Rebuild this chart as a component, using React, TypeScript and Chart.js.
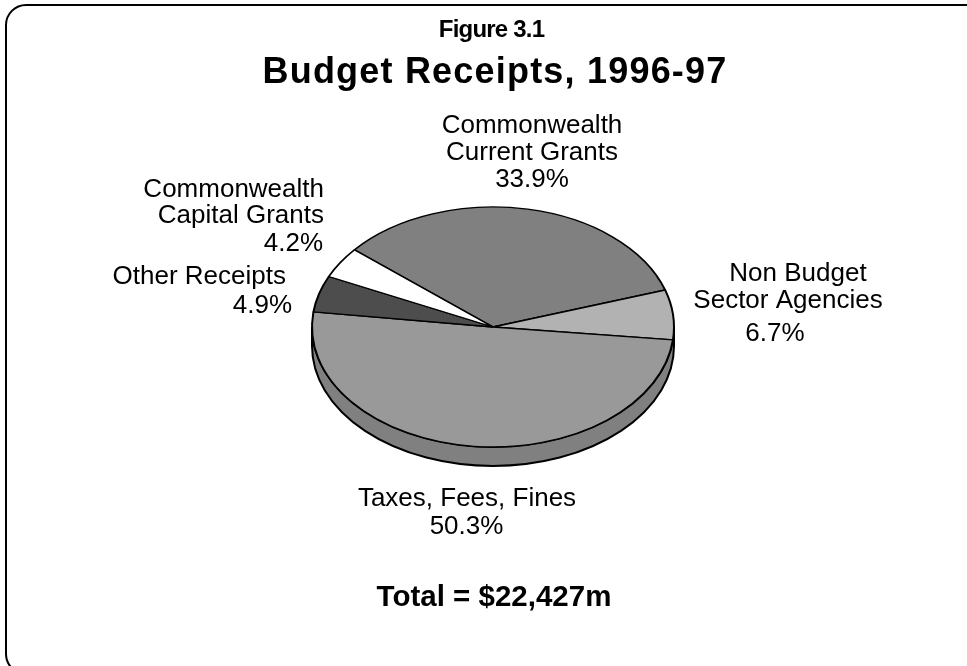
import React, { useEffect, useRef } from "react";
import { Chart, registerables } from "chart.js";

Chart.register(...registerables);

const categories = [
  "Commonwealth Current Grants",
  "Non Budget Sector Agencies",
  "Taxes, Fees, Fines",
  "Other Receipts",
  "Commonwealth Capital Grants",
];
const values = [33.9, 6.7, 50.3, 4.9, 4.2];
const sliceColors = ["#808080", "#b2b2b2", "#999999", "#4d4d4d", "#ffffff"];
const figureLabel = "Figure 3.1";
const chartTitle = "Budget Receipts, 1996-97";
const totalLabel = "Total = $22,427m";

const W = 967;
const H = 666;
const CX = 493;
const CY = 327;
const RX = 182;
const RY = 120;
const DEPTH = 19;
const FONT = '"Liberation Sans", Arial, sans-serif';

const pct = (i: number) => values[i].toFixed(1) + "%";

// [text, x, baseline y, align]
const labelLines: [string, number, number, CanvasTextAlign][] = [
  ["Commonwealth", 532, 133, "center"],
  ["Current Grants", 532, 160, "center"],
  [pct(0), 532, 187, "center"],
  ["Non Budget", 798, 281, "center"],
  ["Sector Agencies", 788, 308, "center"],
  [pct(1), 775, 341, "center"],
  ["Taxes, Fees, Fines", 467, 506, "center"],
  [pct(2), 466.5, 534, "center"],
  ["Other Receipts", 286, 284, "right"],
  [pct(3), 292, 313, "right"],
  ["Commonwealth", 324, 197, "right"],
  ["Capital Grants", 324, 223, "right"],
  [pct(4), 323, 251, "right"],
];

const piePlugin = {
  id: "flatPie",
  beforeDraw(chart: any) {
    const ctx = chart.ctx;
    ctx.save();
    ctx.fillStyle = "#ffffff";
    ctx.fillRect(0, 0, W, H);
    ctx.strokeStyle = "#000000";
    ctx.lineWidth = 2;
    ctx.beginPath();
    ctx.roundRect(6, 5, 980, 669, 20);
    ctx.stroke();
    ctx.restore();
  },
  beforeDatasetsDraw(chart: any) {
    const ctx = chart.ctx;
    const arc = chart.getDatasetMeta(0).data[0];
    const r = arc.outerRadius;
    const k = RY / r;
    ctx.save();
    // Rim of the disc
    ctx.beginPath();
    ctx.ellipse(arc.x, arc.y, r, RY, 0, 0, Math.PI);
    ctx.lineTo(arc.x - r, arc.y + DEPTH);
    ctx.ellipse(arc.x, arc.y + DEPTH, r, RY, 0, Math.PI, 0, true);
    ctx.closePath();
    ctx.fillStyle = "#808080";
    ctx.strokeStyle = "#000000";
    ctx.lineWidth = 2;
    ctx.fill();
    ctx.stroke();
    // Flatten the slices that Chart.js draws next
    ctx.translate(arc.x, arc.y);
    ctx.scale(1, k);
    ctx.translate(-arc.x, -arc.y);
  },
  afterDatasetsDraw(chart: any) {
    chart.ctx.restore();
  },
  afterDraw(chart: any) {
    const ctx = chart.ctx;
    ctx.save();
    ctx.fillStyle = "#000000";
    ctx.textBaseline = "alphabetic";
    ctx.textAlign = "center";
    ctx.font = `bold 24px ${FONT}`;
    ctx.letterSpacing = "-0.8px";
    ctx.fillText(figureLabel, 491.5, 37);
    ctx.font = `bold 36px ${FONT}`;
    ctx.letterSpacing = "1.2px";
    ctx.fillText(chartTitle, 495, 82.5);
    ctx.letterSpacing = "0px";
    ctx.font = `bold 29.5px ${FONT}`;
    ctx.fillText(totalLabel, 494, 606);
    ctx.font = `26px ${FONT}`;
    for (const [text, x, y, align] of labelLines) {
      ctx.textAlign = align;
      ctx.fillText(text, x, y);
    }
    ctx.restore();
  },
};

export default function App() {
  const ref = useRef<HTMLCanvasElement>(null);
  useEffect(() => {
    document.body.style.margin = "0";
    const chart = new Chart(ref.current!, {
      type: "pie",
      data: {
        labels: categories,
        datasets: [
          {
            data: values,
            backgroundColor: sliceColors,
            borderColor: "#000000",
            borderWidth: 2,
            borderAlign: "center",
            clip: false,
          } as any,
        ],
      },
      options: {
        responsive: false,
        animation: false,
        rotation: -50,
        layout: {
          padding: {
            left: CX - RX,
            right: W - CX - RX,
            top: CY - RX,
            bottom: H - CY - RX,
          },
        },
        plugins: {
          legend: { display: false },
          title: { display: false },
          tooltip: { enabled: false },
        },
      },
      plugins: [piePlugin],
    });
    return () => chart.destroy();
  }, []);
  return (
    <canvas
      ref={ref}
      width={W}
      height={H}
      style={{ display: "block", width: W, height: H }}
    />
  );
}
